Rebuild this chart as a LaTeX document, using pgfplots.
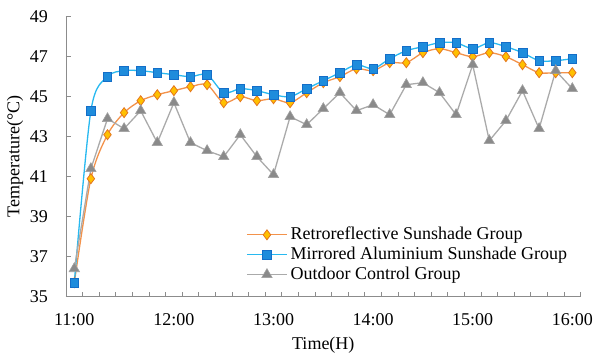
\documentclass[border=0pt]{standalone}
\usepackage{pgfplots}
\pgfplotsset{compat=1.18}
\usepackage{fontspec}
\setmainfont{Liberation Serif}
\definecolor{orline}{RGB}{243,146,75}
\definecolor{orfill}{RGB}{255,192,0}
\definecolor{oredge}{RGB}{228,118,30}
\definecolor{blline}{RGB}{40,185,240}
\definecolor{blfill}{RGB}{30,140,220}
\definecolor{bledge}{RGB}{20,110,200}
\definecolor{grline}{RGB}{170,170,170}
\definecolor{grfill}{RGB}{138,138,138}
\definecolor{gredge}{RGB}{160,160,160}
\definecolor{axgray}{RGB}{140,140,140}
\pgfplotstableread{
x retro mirror outdoor
0 35.7 35.7 36.4
1 40.9 44.3 41.4
2 43.1 46.0 43.9
3 44.2 46.3 43.4
4 44.8 46.3 44.3
5 45.1 46.2 42.7
6 45.3 46.1 44.7
7 45.5 46.0 42.7
8 45.6 46.1 42.3
9 44.7 45.2 42.0
10 45.0 45.4 43.1
11 44.8 45.3 42.0
12 44.9 45.1 41.1
13 44.7 45.0 44.0
14 45.2 45.4 43.6
15 45.7 45.8 44.4
16 46.0 46.2 45.2
17 46.4 46.6 44.3
18 46.3 46.4 44.6
19 46.7 46.9 44.1
20 46.7 47.3 45.6
21 47.2 47.5 45.7
22 47.4 47.7 45.2
23 47.2 47.7 44.1
24 47.0 47.4 46.6
25 47.2 47.7 42.8
26 47.0 47.5 43.8
27 46.6 47.2 45.3
28 46.2 46.8 43.4
29 46.2 46.8 46.3
30 46.2 46.9 45.4
}\datatable
\begin{document}
\fontsize{18bp}{21bp}\selectfont
\begin{tikzpicture}
\begin{axis}[
  scale only axis,
  width=514.6bp, height=280bp,
  at={(0,0)}, anchor=south west,
  xmin=-0.5, xmax=30.5,
  ymin=35, ymax=49,
  axis lines=left,
  axis line style={-, axgray, line width=0.8bp},
  every tick/.style={axgray, line width=0.8bp},
  tick align=inside,
  xtick={0,6,...,30},
  xticklabels={11:00,12:00,13:00,14:00,15:00,16:00},
  major x tick style={draw=none},
  minor xtick={-0.5,0.5,...,30.5},
  minor tick length=5bp,
  ytick={35,37,...,49},
  major tick length=5bp,
  /pgf/number format/assume math mode=true,
  yticklabel style={xshift=-12bp},
  xticklabel style={yshift=-11bp},
  xlabel={Time(H)},
  ylabel={Temperature(\textdegree C)},
  ylabel style={at={([xshift=-51bp]axis description cs:0,0.5)}, anchor=center},
  xlabel style={at={([yshift=-48bp]axis description cs:0.5,0)}, anchor=center},
  legend cell align=left,
  legend style={draw=none, fill=none, at={(rel axis cs:0.35,0.252)}, anchor=north west,
    inner sep=0pt, row sep=2.9bp,
    nodes={inner xsep=3bp, inner ysep=0pt, text height=13bp, text depth=4bp}},
  legend image code/.code={\draw[mark repeat=2,mark phase=2] plot coordinates {(0bp,0bp)(20bp,0bp)(40bp,0bp)};},
]
\addplot[color=orline, line width=1.3bp, smooth, mark=diamond*, mark size=5bp,
  mark options={fill=orfill, draw=oredge, line width=0.8bp}] table[x=x, y=retro] {\datatable};
\addlegendentry{Retroreflective Sunshade Group}
\addplot[color=blline, line width=1.3bp, smooth, mark=square*, mark size=4.3bp,
  mark options={fill=blfill, draw=bledge, line width=0.6bp}] table[x=x, y=mirror] {\datatable};
\addlegendentry{Mirrored Aluminium Sunshade Group}
\addplot[color=grline, line width=1.3bp, mark=triangle*, mark size=6bp,
  mark options={fill=grfill, draw=gredge, line width=0.6bp}] table[x=x, y=outdoor] {\datatable};
\addlegendentry{Outdoor Control Group}
\end{axis}
\pgfresetboundingbox
\useasboundingbox (-66bp,-60.3bp) rectangle (527bp,296.7bp);
\end{tikzpicture}
\end{document}
